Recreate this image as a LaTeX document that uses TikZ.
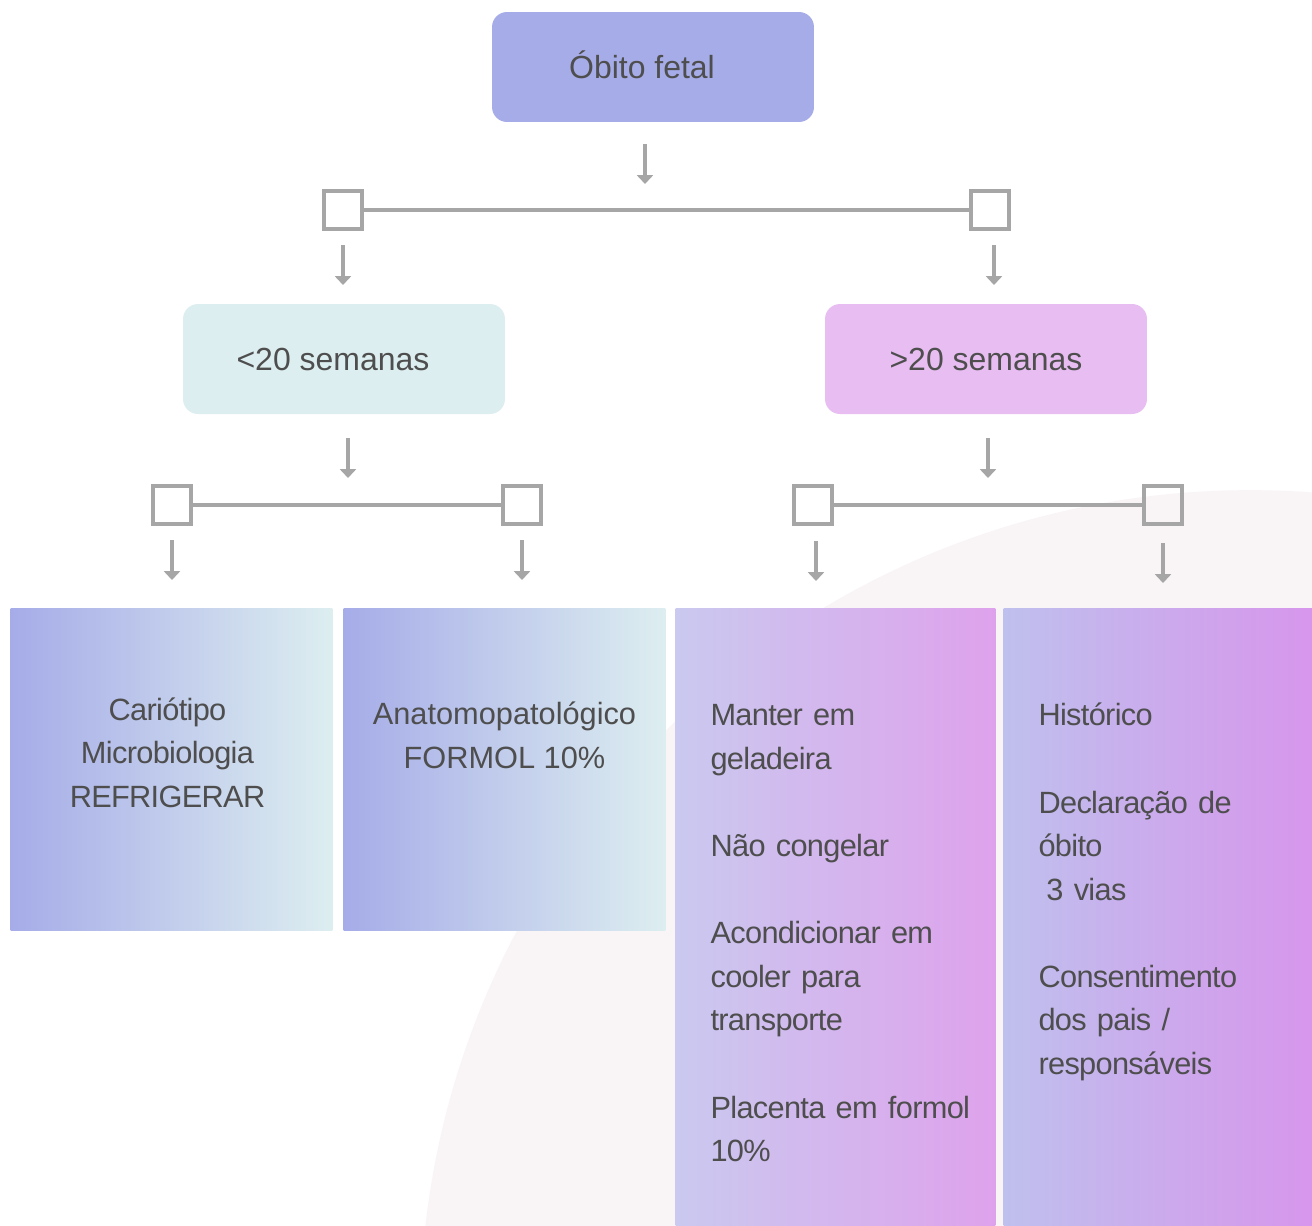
\documentclass[tikz,border=0pt]{standalone}
\usepackage{fontspec}
\setmainfont{Liberation Sans}
\usepackage{tikz}
\usetikzlibrary{arrows.meta,shapes,positioning}

\definecolor{peri}{RGB}{166,172,232}
\definecolor{mint}{RGB}{221,238,240}
\definecolor{orchid}{RGB}{232,190,242}
\definecolor{lavA}{RGB}{202,201,239}
\definecolor{pinkA}{RGB}{222,162,236}
\definecolor{lavB}{RGB}{191,192,237}
\definecolor{pinkB}{RGB}{215,150,236}
\definecolor{linegray}{RGB}{166,166,166}
\definecolor{txt}{RGB}{78,78,78}
\definecolor{bgshape}{RGB}{249,245,247}

\tikzset{
  txtfont/.style={text=txt, font=\fontsize{17.5}{24.8}\selectfont},
  tightfont/.style={text=txt, font=\fontsize{17.5}{24.8}\selectfont\addfontfeatures{LetterSpace=-2.2}},
  stage/.style={text=txt, font=\fontsize{18.2}{24.8}\selectfont, rounded corners=0.3cm, minimum width=6.44cm, minimum height=2.2cm,
                text height=13pt, text depth=0pt},
  branch/.style={draw=linegray, line width=2.8pt, inner sep=0pt, minimum size=0.76cm},
  bar/.style={draw=linegray, line width=2.8pt},
  drop/.style={->, draw=linegray, fill=linegray, line width=2.3pt},
  panel/.style={anchor=north west, inner sep=0pt},
  note/.style={inner sep=0pt}
}

\begin{document}
\begin{tikzpicture}[x=0.02cm,y=-0.02cm,>={Triangle[width=9pt,length=5pt]},semithick]
        \useasboundingbox (0,0) rectangle (1312,1225);
        \fill[white] (0,0) rectangle (1312,1225);
        \begin{scope}
          \clip (0,0) rectangle (1312,1225);
          \fill[bgshape] (1250,1320) circle (16.6cm);
        \end{scope}

        \node[stage, fill=peri] (OF) at (653,67) {Óbito fetal\hspace{0.44cm}\mbox{}};
        \node[stage, fill=mint] (M20) at (344,359) {<20 semanas\hspace{0.44cm}\mbox{}};
        \node[stage, fill=orchid] (P20) at (986,359) {>20 semanas};

        \node[branch] (S1) at (343,210) {};
        \node[branch] (S2) at (990,210) {};
        \node[branch] (S3) at (172,505) {};
        \node[branch] (S4) at (522,505) {};
        \node[branch] (S5) at (813,505) {};
        \node[branch] (S6) at (1163,505) {};
        \path
        (S1) edge[bar] (S2)
        (S3) edge[bar] (S4)
        (S5) edge[bar] (S6)
        ;

        \foreach \n/\x/\y in {a/645/144, b/343/245, c/994/245, d/348/438, e/988/438,
                              f/172/540, g/522/540, h/816/541, i/1163/543}{
          \coordinate (\n t) at (\x,\y);
          \coordinate (\n h) at (\x,\y+40);
          \draw[drop] (\n t) -- (\n h);
        }

        \node[panel, minimum width=6.44cm, minimum height=6.44cm, left color=peri, right color=mint] (CAR) at (10,608) {};
        \node[panel, minimum width=6.44cm, minimum height=6.44cm, left color=peri, right color=mint] (ANA) at (343,608) {};
        \node[panel, minimum width=6.4cm, minimum height=12.4cm, left color=lavA, right color=pinkA] (MAN) at (675,608) {};
        \node[panel, minimum width=6.2cm, minimum height=12.4cm, left color=lavB, right color=pinkB] (HIS) at (1003,608) {};

        \node[note, tightfont, align=center] (CARt) at ([xshift=-0.08cm,yshift=0.34cm]CAR.center) {Cariótipo\\Microbiologia\\REFRIGERAR};
        \node[note, txtfont, align=center] (ANAt) at ([yshift=0.68cm]ANA.center) {Anatomopatológico\\FORMOL 10\%};
        \node[note, tightfont, text width=5.8cm, align=left, below right=2.36cm and 0.7cm of MAN.north west, anchor=base west] (MANt)
          {Manter em\\geladeira\\[24.8pt]Não congelar\\[24.8pt]Acondicionar em\\cooler para\\transporte\\[24.8pt]Placenta em formol\\10\%};
        \node[note, tightfont, text width=5.2cm, align=left, below right=2.36cm and 0.7cm of HIS.north west, anchor=base west] (HISt)
          {Histórico\\[24.8pt]Declaração de\\óbito\\\hspace*{4.5pt}3 vias\\[24.8pt]Consentimento\\dos pais /\\responsáveis};
    \end{tikzpicture}
\end{document}
